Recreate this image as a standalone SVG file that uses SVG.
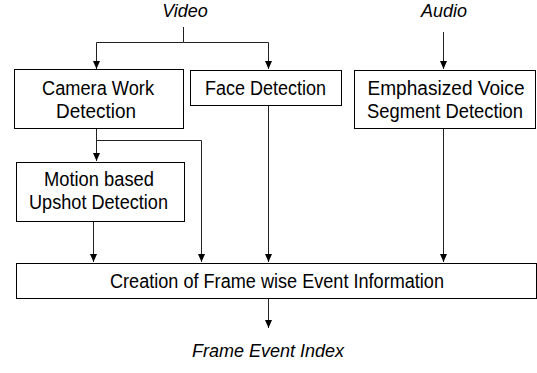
<svg xmlns="http://www.w3.org/2000/svg" width="537" height="373" viewBox="0 0 537 373">
<style>
.box{fill:#fff;stroke:#000;stroke-width:1}
.t{font-family:"Liberation Sans",Arial,sans-serif;font-size:19.5px;fill:#000;text-anchor:middle}
.i{font-style:italic;font-size:18px}
.c{fill:none;stroke:#222;stroke-width:1}
</style>
<defs>
<marker id="a" markerWidth="8" markerHeight="7" refX="8" refY="3.5" orient="auto" markerUnits="userSpaceOnUse" viewBox="0 0 8 7">
<path d="M0,0 L8,3.5 L0,7 Z" fill="#000"/>
</marker>
</defs>
<rect width="537" height="373" fill="#fff"/>
<text class="t i" x="185" y="17">Video</text>
<text class="t i" x="444" y="17">Audio</text>
<g id="connectors">
<path class="c" d="M183.5,27 V42.5 H96.5 V69" marker-end="url(#a)"/>
<path class="c" d="M183.5,42.5 H268.5 V69" marker-end="url(#a)"/>
<path class="c" d="M443.5,32 V69" marker-end="url(#a)"/>
<path class="c" d="M96.5,128 V161" marker-end="url(#a)"/>
<path class="c" d="M96.5,140.5 H201.5 V262" marker-end="url(#a)"/>
<path class="c" d="M93.5,221 V262" marker-end="url(#a)"/>
<path class="c" d="M268.5,105 V262" marker-end="url(#a)"/>
<path class="c" d="M443.5,128 V262" marker-end="url(#a)"/>
<path class="c" d="M268.5,298 V328" marker-end="url(#a)"/>
</g>
<g id="camera">
<rect class="box" x="14.5" y="69.5" width="169" height="59"/>
<text class="t" x="98" y="95" textLength="112" lengthAdjust="spacingAndGlyphs">Camera Work</text>
<text class="t" x="96" y="118" textLength="80" lengthAdjust="spacingAndGlyphs">Detection</text>
</g>
<g id="face">
<rect class="box" x="190.5" y="70.5" width="151" height="35"/>
<text class="t" x="265.5" y="95" textLength="121" lengthAdjust="spacingAndGlyphs">Face Detection</text>
</g>
<g id="voice">
<rect class="box" x="354.5" y="70.5" width="181" height="58"/>
<text class="t" x="446" y="95" textLength="157" lengthAdjust="spacingAndGlyphs">Emphasized Voice</text>
<text class="t" x="445" y="118" textLength="156" lengthAdjust="spacingAndGlyphs">Segment Detection</text>
</g>
<g id="motion">
<rect class="box" x="16.5" y="162.5" width="168" height="59"/>
<text class="t" x="99" y="186" textLength="110" lengthAdjust="spacingAndGlyphs">Motion based</text>
<text class="t" x="98.5" y="209" textLength="139" lengthAdjust="spacingAndGlyphs">Upshot Detection</text>
</g>
<g id="creation">
<rect class="box" x="16.5" y="263.5" width="520" height="35"/>
<text class="t" x="277" y="288" textLength="334" lengthAdjust="spacingAndGlyphs">Creation of Frame wise Event Information</text>
</g>
<text class="t i" x="268" y="357">Frame Event Index</text>
</svg>
